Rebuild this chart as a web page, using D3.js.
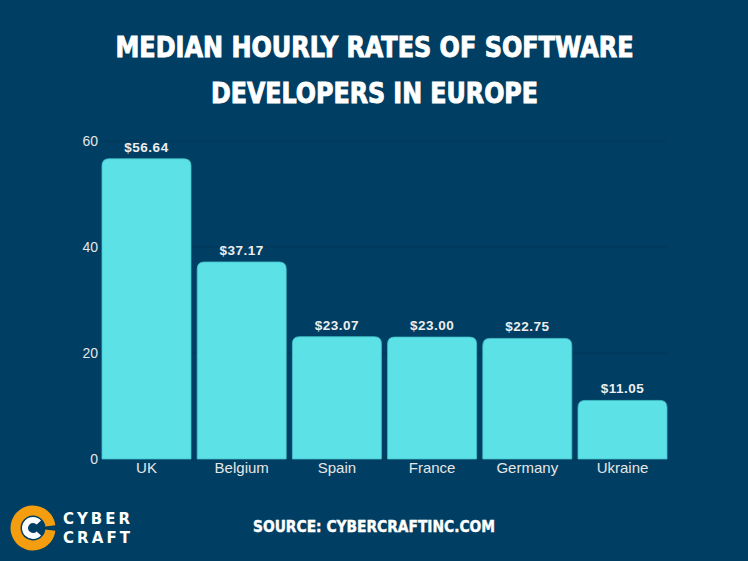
<!DOCTYPE html>
<html>
<head>
<meta charset="utf-8">
<script src="https://cdn.jsdelivr.net/npm/d3@7"></script>
<style>
  html, body { margin: 0; padding: 0; background: #003f63; }
  svg { display: block; }
</style>
</head>
<body>
<svg id="chart" width="748" height="561"></svg>
<script>
const categories = ["UK", "Belgium", "Spain", "France", "Germany", "Ukraine"];
const rates = [56.64, 37.17, 23.07, 23.00, 22.75, 11.05];
const valueLabels = ["$56.64", "$37.17", "$23.07", "$23.00", "$22.75", "$11.05"];
const yTicks = [0, 20, 40, 60];
const titleLines = ["MEDIAN HOURLY RATES OF SOFTWARE", "DEVELOPERS IN EUROPE"];
const sourceText = "SOURCE: CYBERCRAFTINC.COM";
const logoWords = ["CYBER", "CRAFT"];

const W = 748, H = 561;
const svg = d3.select("#chart");
svg.append("rect").attr("width", W).attr("height", H).attr("fill", "#003f63");

const x = d3.scaleBand().domain(categories).range([102, 667]).paddingInner(0.065).paddingOuter(0);
const y = d3.scaleLinear().domain([0, 60]).range([459, 141]);

// gridlines
svg.append("g").selectAll("line").data(yTicks).join("line")
  .attr("x1", 100).attr("x2", 667)
  .attr("y1", d => y(d)).attr("y2", d => y(d))
  .attr("stroke", "#00304d").attr("stroke-opacity", 0.55).attr("stroke-width", 1);

// y axis
const yAxis = svg.append("g").attr("transform", "translate(100,0)")
  .call(d3.axisLeft(y).tickValues(yTicks).tickSize(0).tickPadding(2));
yAxis.select(".domain").remove();
yAxis.selectAll("text").attr("fill", "#e6e6e6").attr("font-size", 14)
  .attr("font-family", "Liberation Sans, Arial, sans-serif");

// x axis
const xAxis = svg.append("g").attr("transform", "translate(0,459)")
  .call(d3.axisBottom(x).tickSize(0).tickPadding(3));
xAxis.select(".domain").remove();
xAxis.selectAll("text").attr("fill", "#e6e6e6").attr("font-size", 15)
  .attr("font-family", "Liberation Sans, Arial, sans-serif");

// bars with rounded top corners
function barPath(x0, y0, w, h, r) {
  r = Math.min(r, h, w / 2);
  return `M${x0},${y0 + h}V${y0 + r}Q${x0},${y0} ${x0 + r},${y0}H${x0 + w - r}Q${x0 + w},${y0} ${x0 + w},${y0 + r}V${y0 + h}Z`;
}
const data = categories.map((c, i) => ({ c, v: rates[i], label: valueLabels[i] }));
svg.append("g").selectAll("path").data(data).join("path")
  .attr("d", d => barPath(x(d.c), y(d.v), x.bandwidth(), y(0) - y(d.v), 7))
  .attr("fill", "#5ce1e6")
  .attr("stroke", "#45c3cc").attr("stroke-width", 0.8);

svg.append("g").selectAll("text").data(data).join("text")
  .attr("x", d => x(d.c) + x.bandwidth() / 2)
  .attr("y", d => y(d.v) - 7)
  .attr("text-anchor", "middle")
  .attr("fill", "#eeeeee").attr("font-size", 13.5).attr("font-weight", "bold")
  .attr("font-family", "Liberation Sans, Arial, sans-serif")
  .attr("letter-spacing", 0.5)
  .text(d => d.label);

// title
const titleY = [57, 103];
const titleW = [518, 327];
svg.append("g").selectAll("text").data(titleLines).join("text")
  .attr("x", W / 2 + 0.5).attr("y", (d, i) => titleY[i])
  .attr("text-anchor", "middle")
  .attr("fill", "#ffffff")
  .attr("stroke", "#ffffff").attr("stroke-width", 0.9)
  .attr("font-family", "DejaVu Sans Condensed, DejaVu Sans, sans-serif")
  .attr("font-stretch", "condensed")
  .attr("font-weight", "bold")
  .attr("font-size", 28.5)
  .attr("textLength", (d, i) => titleW[i])
  .attr("lengthAdjust", "spacingAndGlyphs")
  .text(d => d);

// source
svg.append("text")
  .attr("x", 374).attr("y", 532)
  .attr("text-anchor", "middle")
  .attr("fill", "#ffffff")
  .attr("stroke", "#ffffff").attr("stroke-width", 0.4)
  .attr("font-family", "DejaVu Sans Condensed, DejaVu Sans, sans-serif")
  .attr("font-stretch", "condensed")
  .attr("font-weight", "bold")
  .attr("font-size", 16)
  .attr("textLength", 242)
  .attr("lengthAdjust", "spacingAndGlyphs")
  .text(sourceText);

// logo
const logo = svg.append("g").attr("transform", "translate(33,528)");
const ring = d3.arc().innerRadius(12.5).outerRadius(22.5)
  .startAngle(Math.PI / 2 + 0.12).endAngle(Math.PI / 2 - 0.12 + 2 * Math.PI);
logo.append("path").attr("d", ring()).attr("fill", "#f49d0e");
const cArc = d3.arc().innerRadius(5).outerRadius(11)
  .startAngle(Math.PI / 2 + 0.75).endAngle(Math.PI / 2 - 0.75 + 2 * Math.PI);
logo.append("path").attr("d", cArc()).attr("fill", "#ffffff");

svg.append("g").selectAll("text").data(logoWords).join("text")
  .attr("x", 63).attr("y", (d, i) => 524 + i * 19)
  .attr("fill", "#ffffff")
  .attr("font-family", "DejaVu Sans, sans-serif")
  .attr("font-weight", "bold")
  .attr("font-size", 15)
  .attr("textLength", 67)
  .attr("lengthAdjust", "spacing")
  .text(d => d);
</script>
</body>
</html>
